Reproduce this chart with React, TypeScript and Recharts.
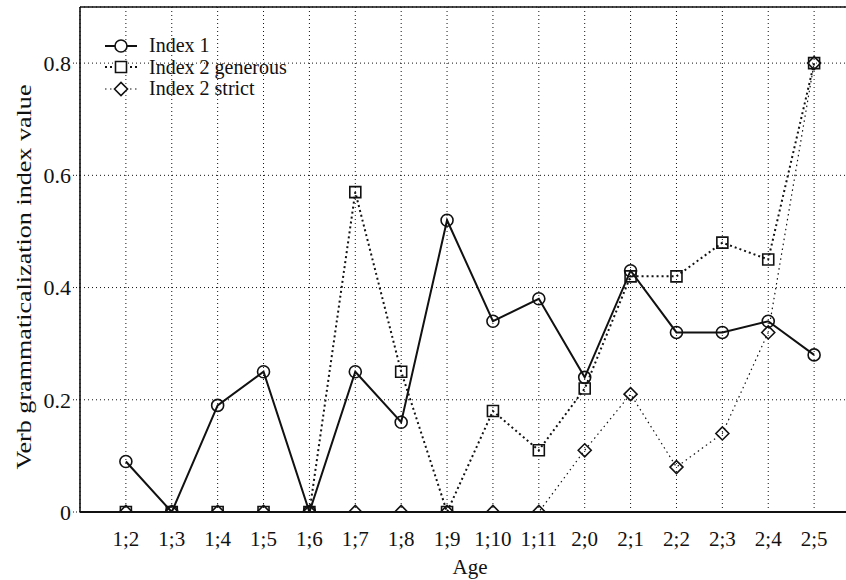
import React from 'react';
import { LineChart, Line, XAxis, YAxis, CartesianGrid, ReferenceLine } from 'recharts';

const ages = ['1;2', '1;3', '1;4', '1;5', '1;6', '1;7', '1;8', '1;9', '1;10', '1;11', '2;0', '2;1', '2;2', '2;3', '2;4', '2;5'];
const index1 = [0.09, 0, 0.19, 0.25, 0, 0.25, 0.16, 0.52, 0.34, 0.38, 0.24, 0.43, 0.32, 0.32, 0.34, 0.28];
const index2Generous = [0, 0, 0, 0, 0, 0.57, 0.25, 0, 0.18, 0.11, 0.22, 0.42, 0.42, 0.48, 0.45, 0.8];
const index2Strict = [0, 0, 0, 0, 0, 0, 0, 0, 0, 0, 0.11, 0.21, 0.08, 0.14, 0.32, 0.8];
const yTicks = [0, 0.2, 0.4, 0.6, 0.8];

const data = ages.map((age, i) => ({
  pos: i,
  age,
  index1: index1[i],
  generous: index2Generous[i],
  strict: index2Strict[i],
}));

const FONT = '"Liberation Serif", "Times New Roman", serif';
const INK = '#111';

type Shape = 'circle' | 'square' | 'diamond';

// markers sitting on the x axis are cut in half by the plot edge
function markerPath(shape: Shape, cx: number, cy: number, half: boolean) {
  const s = shape === 'circle' ? 6 : 5.5;
  if (shape === 'circle') {
    return half
      ? `M${cx - s},${cy} A${s},${s} 0 0 1 ${cx + s},${cy}`
      : `M${cx - s},${cy} A${s},${s} 0 1 1 ${cx + s},${cy} A${s},${s} 0 1 1 ${cx - s},${cy} Z`;
  }
  if (shape === 'square') {
    return half
      ? `M${cx - s},${cy} V${cy - s} H${cx + s} V${cy}`
      : `M${cx - s},${cy - s} H${cx + s} V${cy + s} H${cx - s} Z`;
  }
  return half
    ? `M${cx - s - 1},${cy} L${cx},${cy - s - 1} L${cx + s + 1},${cy}`
    : `M${cx - s - 1},${cy} L${cx},${cy - s - 1} L${cx + s + 1},${cy} L${cx},${cy + s + 1} Z`;
}

const makeDot = (shape: Shape) => (props: any) => {
  const { cx, cy, value, index } = props;
  if (cx == null || cy == null) return <g key={index} />;
  return (
    <path
      key={`${shape}-${index}`}
      d={markerPath(shape, cx, cy, value === 0)}
      fill="none"
      stroke={INK}
      strokeWidth={1.6}
    />
  );
};

const legendItems: { label: string; shape: Shape; dash?: string; width: number }[] = [
  { label: 'Index 1', shape: 'circle', width: 2 },
  { label: 'Index 2 generous', shape: 'square', dash: '2 3', width: 2 },
  { label: 'Index 2 strict', shape: 'diamond', dash: '1.5 3.5', width: 1.2 },
];

function LegendBox() {
  return (
    <div style={{ position: 'absolute', left: 101, top: 35, fontFamily: FONT, fontSize: 20, color: INK, lineHeight: '21.5px' }}>
      {legendItems.map((it) => (
        <div key={it.label} style={{ display: 'flex', alignItems: 'center', height: 21.5 }}>
          <svg width={40} height={20} style={{ marginRight: 8 }}>
            <line x1={4} x2={36} y1={10} y2={10} stroke={INK} strokeWidth={it.width} strokeDasharray={it.dash} />
            <path d={markerPath(it.shape, 20, 10, false)} fill="#fff" stroke={INK} strokeWidth={1.6} />
          </svg>
          <span>{it.label}</span>
        </div>
      ))}
    </div>
  );
}

export default function App() {
  return (
    <div style={{ position: 'absolute', left: 0, top: 0, width: 846, height: 580, overflow: 'hidden', background: '#fff' }}>
      <LineChart width={870} height={580} data={data} margin={{ top: 7, right: 10, bottom: 0, left: 20 }}>
        <CartesianGrid stroke={INK} strokeDasharray="1 3" strokeWidth={1} />
        <XAxis
          dataKey="pos"
          type="number"
          domain={[-1, 16]}
          ticks={ages.map((_, i) => i)}
          tickFormatter={(v: number) => ages[v] ?? ''}
          allowDataOverflow
          height={68}
          tickSize={0}
          tickMargin={19}
          axisLine={{ stroke: INK, strokeWidth: 2 }}
          tick={{ fontFamily: FONT, fontSize: 21, fill: INK }}
          label={{
            content: (p: any) => {
              const vb = p.viewBox;
              return (
                <text x={vb.x + vb.width / 2} y={567} textAnchor="middle" dominantBaseline="central" fontFamily={FONT} fontSize={21} fill={INK}>
                  Age
                </text>
              );
            },
          }}
        />
        <YAxis
          type="number"
          domain={[0, 0.9]}
          ticks={yTicks}
          allowDataOverflow
          width={60}
          tickSize={7}
          tickMargin={2}
          tickFormatter={(v: number) => (v === 0 ? '0' : String(v))}
          tickLine={{ stroke: INK, strokeDasharray: '1 2' }}
          axisLine={{ stroke: INK, strokeWidth: 1.6 }}
          tick={{ fontFamily: FONT, fontSize: 22, fill: INK }}
          label={{
            content: () => {
              const cy = 277;
              return (
                <text
                  x={24}
                  y={cy}
                  transform={`rotate(-90 24 ${cy})`}
                  textAnchor="middle"
                  dominantBaseline="central"
                  fontFamily={FONT}
                  fontSize={21}
                  textLength={385}
                  lengthAdjust="spacingAndGlyphs"
                  fill={INK}
                >
                  Verb grammaticalization index value
                </text>
              );
            },
          }}
        />
        <ReferenceLine y={0.9} stroke={INK} strokeWidth={1.6} ifOverflow="visible" />
        <Line dataKey="strict" stroke={INK} strokeWidth={1.2} strokeDasharray="1.5 3.5" dot={makeDot('diamond')} activeDot={false} isAnimationActive={false} />
        <Line dataKey="generous" stroke={INK} strokeWidth={2} strokeDasharray="2 3" dot={makeDot('square')} activeDot={false} isAnimationActive={false} />
        <Line dataKey="index1" stroke={INK} strokeWidth={2} dot={makeDot('circle')} activeDot={false} isAnimationActive={false} />
      </LineChart>
      <LegendBox />
    </div>
  );
}
